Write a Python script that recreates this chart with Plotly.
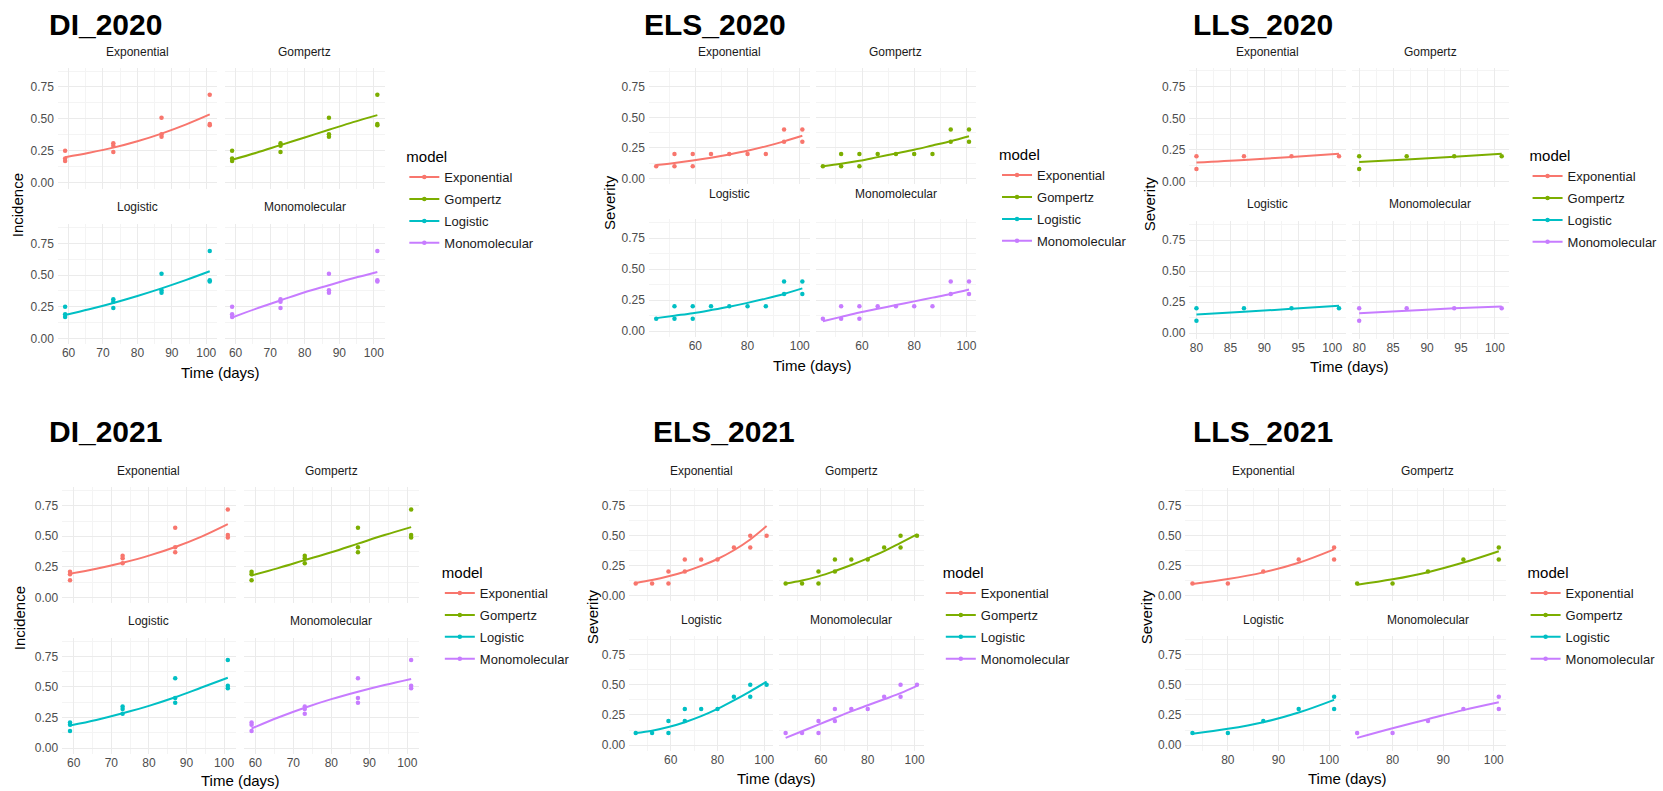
import plotly.graph_objects as go

W, H = 1663, 791

MODELS = ["Exponential", "Gompertz", "Logistic", "Monomolecular"]
COLORS = ["#F8766D", "#7CAE00", "#00BFC4", "#C77CFF"]
Y_TICKS = [0, 0.25, 0.5, 0.75]
Y_TICKTEXT = ["0.00", "0.25", "0.50", "0.75"]
Y_MINOR = [0.125, 0.375, 0.625, 0.875]

# ---------------- DI_2020 ----------------
DI20_obs_days = [59, 59, 59, 73, 73, 73, 87, 87, 87, 101, 101, 101]
DI20_obs = [0.25, 0.19, 0.17, 0.31, 0.29, 0.24, 0.51, 0.38, 0.36, 0.69, 0.46, 0.45]
DI20_fit_days = [59, 66, 73, 80, 87, 94, 101]
DI20_exp = [0.20, 0.235, 0.275, 0.325, 0.385, 0.455, 0.535]
DI20_gom = [0.18, 0.235, 0.295, 0.355, 0.415, 0.475, 0.53]
DI20_log = [0.185, 0.23, 0.28, 0.335, 0.395, 0.46, 0.53]
DI20_mono = [0.165, 0.235, 0.30, 0.365, 0.42, 0.475, 0.525]

# ---------------- ELS_2020 ----------------
ELS20_obs_days = [45, 52, 52, 59, 59, 66, 73, 80, 87, 94, 94, 101, 101]
ELS20_obs = [0.1, 0.2, 0.1, 0.2, 0.1, 0.2, 0.2, 0.2, 0.2, 0.4, 0.3, 0.4, 0.3]
ELS20_fit_days = [45, 52, 59, 66, 73, 80, 87, 94, 101]
ELS20_exp = [0.11, 0.127, 0.147, 0.17, 0.197, 0.227, 0.263, 0.304, 0.35]
ELS20_gom = [0.10, 0.12, 0.145, 0.175, 0.205, 0.235, 0.27, 0.305, 0.345]
ELS20_log = [0.105, 0.125, 0.145, 0.17, 0.197, 0.228, 0.262, 0.30, 0.345]
ELS20_mono = [0.08, 0.115, 0.15, 0.18, 0.21, 0.24, 0.27, 0.30, 0.335]

# ---------------- LLS_2020 ----------------
LLS20_obs_days = [80, 80, 87, 94, 101]
LLS20_obs = [0.2, 0.1, 0.2, 0.2, 0.2]
LLS20_fit_days = [80, 87, 94, 101]
LLS20_exp = [0.15, 0.17, 0.195, 0.22]
LLS20_gom = [0.155, 0.175, 0.197, 0.22]
LLS20_log = [0.15, 0.172, 0.196, 0.22]
LLS20_mono = [0.16, 0.18, 0.20, 0.215]

# ---------------- DI_2021 ----------------
DI21_obs_days = [59, 59, 59, 73, 73, 73, 87, 87, 87, 101, 101, 101]
DI21_obs = [0.21, 0.19, 0.14, 0.34, 0.32, 0.28, 0.57, 0.41, 0.37, 0.72, 0.51, 0.49]
DI21_fit_days = [59, 66, 73, 80, 87, 94, 101]
DI21_exp = [0.195, 0.235, 0.284, 0.342, 0.413, 0.498, 0.60]
DI21_gom = [0.18, 0.24, 0.305, 0.37, 0.44, 0.51, 0.575]
DI21_log = [0.185, 0.23, 0.285, 0.345, 0.415, 0.495, 0.575]
DI21_mono = [0.16, 0.25, 0.33, 0.40, 0.46, 0.515, 0.565]

# ---------------- ELS_2021 ----------------
ELS21_obs_days = [45, 52, 59, 59, 66, 66, 73, 80, 87, 94, 94, 101]
ELS21_obs = [0.1, 0.1, 0.2, 0.1, 0.3, 0.2, 0.3, 0.3, 0.4, 0.5, 0.4, 0.5]
ELS21_fit_days = [45, 52, 59, 66, 73, 80, 87, 94, 101]
ELS21_exp = [0.105, 0.13, 0.161, 0.199, 0.247, 0.305, 0.378, 0.468, 0.58]
ELS21_gom = [0.10, 0.125, 0.16, 0.205, 0.255, 0.31, 0.37, 0.44, 0.51]
ELS21_log = [0.10, 0.12, 0.15, 0.19, 0.24, 0.30, 0.37, 0.445, 0.525]
ELS21_mono = [0.06, 0.115, 0.17, 0.225, 0.28, 0.33, 0.38, 0.43, 0.49]

# ---------------- LLS_2021 ----------------
LLS21_obs_days = [73, 80, 87, 94, 101, 101]
LLS21_obs = [0.1, 0.1, 0.2, 0.3, 0.4, 0.3]
LLS21_fit_days = [73, 80, 87, 94, 101]
LLS21_exp = [0.097, 0.137, 0.193, 0.273, 0.385]
LLS21_gom = [0.09, 0.135, 0.195, 0.275, 0.37]
LLS21_log = [0.095, 0.135, 0.19, 0.27, 0.375]
LLS21_mono = [0.06, 0.14, 0.215, 0.29, 0.355]

# ---------------- layout of the six panels (pixels) ----------------
PANELS = [
    dict(title="DI_2020", ylabel="Incidence",
         obs_days=DI20_obs_days, obs=DI20_obs, fit_days=DI20_fit_days,
         fits=[DI20_exp, DI20_gom, DI20_log, DI20_mono],
         xrange=[56.9, 103.1], xticks=[60, 70, 80, 90, 100], xminor=[65, 75, 85, 95],
         title_xy=(48, 25), xL=(58.7, 220), xR=(228, 390), yT=(68, 189), yB=(225, 345),
         strip_y=(52, 208), xlab_xy=(224, 373), ylab_xy=(18, 206), leg_xy=(412, 155)),
    dict(title="ELS_2020", ylabel="Severity",
         obs_days=ELS20_obs_days, obs=ELS20_obs, fit_days=ELS20_fit_days,
         fits=[ELS20_exp, ELS20_gom, ELS20_log, ELS20_mono],
         xrange=[42.2, 103.8], xticks=[60, 80, 100], xminor=[50, 70, 90],
         title_xy=(651, 25), xL=(658, 821), xR=(827, 990), yT=(68.6, 184.5), yB=(220, 337.6),
         strip_y=(52, 194), xlab_xy=(824, 366), ylab_xy=(618, 203), leg_xy=(1013, 153)),
    dict(title="LLS_2020", ylabel="Severity",
         obs_days=LLS20_obs_days, obs=LLS20_obs, fit_days=LLS20_fit_days,
         fits=[LLS20_exp, LLS20_gom, LLS20_log, LLS20_mono],
         xrange=[78.95, 102.05], xticks=[80, 85, 90, 95, 100], xminor=[82.5, 87.5, 92.5, 97.5],
         title_xy=(1208, 25), xL=(1206, 1365), xR=(1371, 1530), yT=(68, 187.7), yB=(222, 339.6),
         strip_y=(52, 205), xlab_xy=(1368, 367), ylab_xy=(1166, 204), leg_xy=(1551, 154)),
    dict(title="DI_2021", ylabel="Incidence",
         obs_days=DI21_obs_days, obs=DI21_obs, fit_days=DI21_fit_days,
         fits=[DI21_exp, DI21_gom, DI21_log, DI21_mono],
         xrange=[56.9, 103.1], xticks=[60, 70, 80, 90, 100], xminor=[65, 75, 85, 95],
         title_xy=(48, 433), xL=(63, 239), xR=(247, 425), yT=(488.6, 604.5), yB=(639.6, 755.5),
         strip_y=(472, 623), xlab_xy=(244, 782), ylab_xy=(20, 620), leg_xy=(448, 572)),
    dict(title="ELS_2021", ylabel="Severity",
         obs_days=ELS21_obs_days, obs=ELS21_obs, fit_days=ELS21_fit_days,
         fits=[ELS21_exp, ELS21_gom, ELS21_log, ELS21_mono],
         xrange=[42.2, 103.8], xticks=[60, 80, 100], xminor=[50, 70, 90],
         title_xy=(660, 433), xL=(638, 784), xR=(790, 936.5), yT=(489, 602.4), yB=(638, 752.5),
         strip_y=(472, 622), xlab_xy=(787, 780), ylab_xy=(601, 618), leg_xy=(956, 572)),
    dict(title="LLS_2021", ylabel="Severity",
         obs_days=LLS21_obs_days, obs=LLS21_obs, fit_days=LLS21_fit_days,
         fits=[LLS21_exp, LLS21_gom, LLS21_log, LLS21_mono],
         xrange=[71.6, 102.4], xticks=[80, 90, 100], xminor=[75, 85, 95],
         title_xy=(1208, 433), xL=(1202, 1360), xR=(1369, 1527), yT=(489, 602.4), yB=(638, 752.5),
         strip_y=(472, 622), xlab_xy=(1366, 780), ylab_xy=(1163, 618), leg_xy=(1549, 572)),
]

FONT = "Liberation Sans, Arial, sans-serif"
GRID = "#EBEBEB"
GRID_MINOR = "#F4F4F4"


def fx(v):
    return v / W


def fy(v):
    return 1 - v / H


fig = go.Figure()
layout = {}
annotations = []

for p, P in enumerate(PANELS):
    xdoms = [P["xL"], P["xR"], P["xL"], P["xR"]]
    ydoms = [P["yT"], P["yT"], P["yB"], P["yB"]]
    legname = "legend" if p == 0 else f"legend{p + 1}"
    for f in range(4):
        n = p * 4 + f + 1
        xa = "xaxis" if n == 1 else f"xaxis{n}"
        ya = "yaxis" if n == 1 else f"yaxis{n}"
        xr = "x" if n == 1 else f"x{n}"
        yr = "y" if n == 1 else f"y{n}"
        layout[xa] = dict(
            domain=[fx(xdoms[f][0]), fx(xdoms[f][1])], anchor=yr,
            range=P["xrange"], tickvals=P["xticks"], showticklabels=(f >= 2),
            showgrid=True, gridcolor=GRID, gridwidth=1,
            minor=dict(tickvals=P["xminor"], showgrid=True, gridcolor=GRID_MINOR, gridwidth=1),
            zeroline=False, showline=False, ticks="",
            tickfont=dict(family=FONT, size=12, color="#4D4D4D"), fixedrange=True,
        )
        layout[ya] = dict(
            domain=[fy(ydoms[f][1]), fy(ydoms[f][0])], anchor=xr,
            range=[-0.045, 0.9], tickvals=Y_TICKS, ticktext=Y_TICKTEXT,
            showticklabels=(f % 2 == 0),
            showgrid=True, gridcolor=GRID, gridwidth=1,
            minor=dict(tickvals=Y_MINOR, showgrid=True, gridcolor=GRID_MINOR, gridwidth=1),
            zeroline=False, showline=False, ticks="", ticklabelstandoff=3,
            tickfont=dict(family=FONT, size=12, color="#4D4D4D"), fixedrange=True,
        )
        fig.add_trace(go.Scatter(
            x=P["obs_days"], y=P["obs"], mode="markers",
            marker=dict(color=COLORS[f], size=4.5), xaxis=xr, yaxis=yr,
            showlegend=False, hoverinfo="skip"))
        fig.add_trace(go.Scatter(
            x=P["fit_days"], y=P["fits"][f], mode="lines",
            line=dict(color=COLORS[f], width=2, shape="spline"), xaxis=xr, yaxis=yr,
            showlegend=False, hoverinfo="skip"))
        # legend key (line with point, like ggplot)
        fig.add_trace(go.Scatter(
            x=[None], y=[None], mode="lines+markers", name=MODELS[f],
            line=dict(color=COLORS[f], width=2), marker=dict(color=COLORS[f], size=4.5),
            xaxis=xr, yaxis=yr, legend=legname, legendgroup=f"g{p}_{f}", showlegend=True))
        # facet strip text
        sy = P["strip_y"][0] if f < 2 else P["strip_y"][1]
        annotations.append(dict(
            text=MODELS[f], x=fx((xdoms[f][0] + xdoms[f][1]) / 2), y=fy(sy),
            xref="paper", yref="paper", showarrow=False, xanchor="center", yanchor="middle",
            font=dict(family=FONT, size=12, color="#1A1A1A")))
    # panel title
    annotations.append(dict(
        text="<b>" + P["title"] + "</b>", x=fx(P["title_xy"][0]), y=fy(P["title_xy"][1]),
        xref="paper", yref="paper", showarrow=False, xanchor="left", yanchor="middle",
        font=dict(family=FONT, size=30, color="#000000")))
    # axis titles
    annotations.append(dict(
        text="Time (days)", x=fx(P["xlab_xy"][0]), y=fy(P["xlab_xy"][1]),
        xref="paper", yref="paper", showarrow=False, xanchor="center", yanchor="middle",
        font=dict(family=FONT, size=15, color="#000000")))
    annotations.append(dict(
        text=P["ylabel"], x=fx(P["ylab_xy"][0]), y=fy(P["ylab_xy"][1]), textangle=-90,
        xref="paper", yref="paper", showarrow=False, xanchor="center", yanchor="middle",
        font=dict(family=FONT, size=15, color="#000000")))
    layout[legname] = dict(
        x=fx(P["leg_xy"][0] - 2), y=fy(P["leg_xy"][1] - 12), xanchor="left", yanchor="top",
        title=dict(text="model", font=dict(family=FONT, size=15, color="#000000")),
        font=dict(family=FONT, size=13, color="#1A1A1A"), bgcolor="rgba(0,0,0,0)",
        tracegroupgap=2, itemclick=False, itemdoubleclick=False)

layout.update(dict(
    width=W, height=H, margin=dict(l=0, r=0, t=0, b=0),
    paper_bgcolor="white", plot_bgcolor="white",
    annotations=annotations, font=dict(family=FONT),
))
fig.update_layout(**layout)

fig.write_html("out.html", config={"displayModeBar": False},
               post_script="document.body.style.margin='0';")
